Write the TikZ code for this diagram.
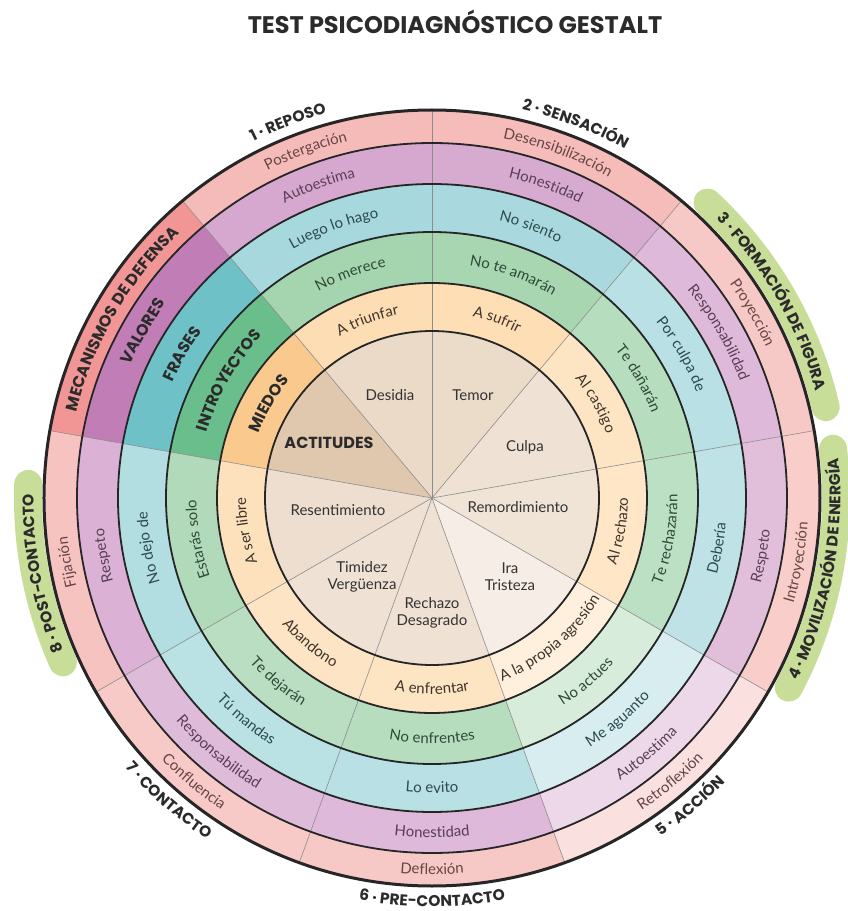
\documentclass[tikz,border=0pt]{standalone}
\usepackage{fontspec}
\setmainfont{Lato}
\newfontfamily\headfont{Poppins}
\usetikzlibrary{decorations.text}

% ring colours (sector 1) and label sector colours
\definecolor{beigeR}{HTML}{EBDAC8}
\definecolor{yellR}{HTML}{FDDDB3}
\definecolor{greenR}{HTML}{A5D5AF}
\definecolor{blueR}{HTML}{A7D8DD}
\definecolor{purpR}{HTML}{D6A8CF}
\definecolor{pinkR}{HTML}{F5BBB8}
\definecolor{beigeL}{HTML}{E0C8AF}
\definecolor{yellL}{HTML}{FAC98E}
\definecolor{greenL}{HTML}{6ABE8C}
\definecolor{blueL}{HTML}{6FC1C8}
\definecolor{purpL}{HTML}{C07DB6}
\definecolor{pinkL}{HTML}{F19694}
\definecolor{bandgreen}{HTML}{C8DD98}
% text colours
\definecolor{yellT}{HTML}{3E342A}
\definecolor{greenT}{HTML}{2E4A37}
\definecolor{blueT}{HTML}{2C4A4F}
\definecolor{purpT}{HTML}{5A3E56}
\definecolor{pinkT}{HTML}{664544}
\definecolor{ink}{HTML}{333333}
\definecolor{headink}{HTML}{2B2B2B}

\newcommand\ringfont{\fontsize{15}{17}\selectfont}
\newcommand\labfont{\headfont\bfseries\fontsize{16}{19}\selectfont\color{headink}}
\newcommand\stagefont{\headfont\bfseries\fontsize{15.5}{18}\selectfont\color{headink}}

\tikzset{
  spoke/.style={draw=black!45, line width=0.6pt},
  ring/.style={draw=black!85, line width=1.8pt},
  rim/.style={draw=black!85, line width=3pt},
  band/.style={draw=bandgreen, line width=28pt, line cap=round},
  inner/.style={font=\ringfont, text=ink, align=center, inner sep=1pt}
}

\begin{document}
\begin{tikzpicture}[x=1pt, y=1pt]
\useasboundingbox (-432,-413) rectangle (416,498);

% title
\node[font=\headfont\bfseries\fontsize{24}{28}\selectfont, text=headink] (title) at (23,476) {TEST PSICODIAGNÓSTICO GESTALT};

% sectors
\foreach \c/\m in {110/100,70/98,30/80,-10/74,-50/45,-90/80,-130/78,-170/88} {
  \foreach \ri/\ro/\col in {0.1/167/beigeR,167/215/yellR,215/266/greenR,266/314/blueR,314/355/purpR,355/388/pinkR} {
    \fill[fill=\col!\m!white] (\c+20:\ri) arc (\c+20:\c-20:\ri) -- (\c-20:\ro) arc (\c-20:\c+20:\ro) -- cycle;
  }
}
% label sector
\foreach \ri/\ro/\col in {0.1/167/beigeL,167/215/yellL,215/266/greenL,266/314/blueL,314/355/purpL,355/388/pinkL} {
  \fill[fill=\col] (170:\ri) arc (170:130:\ri) -- (130:\ro) arc (130:170:\ro) -- cycle;
}

% green bands
\draw[band] (47:404) arc (47:13:404);
\draw[band] (7:404) arc (7:-28:404);
\draw[band] (204:404) arc (204:178:404);

% spokes and circles
\foreach \a in {90,50,...,-230} \draw[spoke] (0,0) -- (\a:388);
\foreach \r in {167,215,266,314,355} \draw[ring] (0,0) circle (\r);
\draw[rim] (0,0) circle (388);

% ring texts
\foreach \c/\s/\ta/\tb/\tc/\td/\te in {
  110/1/A triunfar/No merece/Luego lo hago/Autoestima/Postergación,
  70/1/A sufrir/No te amarán/No siento/Honestidad/Desensibilización,
  30/1/Al castigo/Te dañarán/Por culpa de/Responsabilidad/Proyección,
  -10/-1/Al rechazo/Te rechazarán/Debería/Respeto/Introyección,
  -50/-1/A la propia agresión/No actues/Me aguanto/Autoestima/Retroflexión,
  -90/-1/A enfrentar/No enfrentes/Lo evito/Honestidad/Deflexión,
  -130/-1/Abandono/Te dejarán/Tú mandas/Responsabilidad/Confluencia,
  -170/1/A ser libre/Estarás solo/No dejo de/Respeto/Fijación} {
  \pgfmathsetmacro\aa{\c+40*\s}
  \pgfmathsetmacro\ab{\c-40*\s}
  \foreach \txt/\r/\col in {\ta/191/yellT,\tb/240.5/greenT,\tc/290/blueT,\td/334.5/purpT,\te/371.5/pinkT} {
    \pgfmathsetmacro\rb{\r-5*\s}
    \path[decorate, decoration={text along path, text align=center,
      text/.expanded={|\noexpand\ringfont\noexpand\color{\col}|\txt}}]
      (\aa:\rb) arc (\aa:\ab:\rb);
  }
}

% label sector texts
\foreach \txt/\r in {MIEDOS/191,INTROYECTOS/240.5,FRASES/290,MECANISMOS DE DEFENSA/371.5} {
  \pgfmathsetmacro\rb{\r-6}
  \path[decorate, decoration={text along path, text align=center,
    text/.expanded={|\noexpand\labfont|\txt}}] (190:\rb) arc (190:110:\rb);
}
\node[font=\labfont, rotate=60, inner sep=0pt] (valores) at (150:334.5) {VALORES};
\node[font=\labfont] (actitudes) at (-103,55) {ACTITUDES};

% inner texts
\node[inner] (desidia) at (-42,103) {Desidia};
\node[inner] (temor) at (41,103) {Temor};
\node[inner] (culpa) at (93,51) {Culpa};
\node[inner] (remord) at (86,-9) {Remordimiento};
\node[inner] (ira) at (78,-79) {Ira\\Tristeza};
\node[inner] (rechazo) at (0,-115) {Rechazo\\Desagrado};
\node[inner] (timidez) at (-70,-79) {Timidez\\Vergüenza};
\node[inner] (resent) at (-94,-12) {Resentimiento};

% stage labels
\foreach \c/\s/\txt in {111/1/1 · REPOSO,69/1/2 · SENSACIÓN,30/1/3 · FORMACIÓN DE FIGURA,
  -10.5/-1/4 · MOVILIZACIÓN DE ENERGÍA,-50/-1/5 · ACCIÓN,-90/-1/6 · PRE-CONTACTO,
  -131/-1/7 · CONTACTO,-169/1/8 · POST-CONTACTO} {
  \pgfmathsetmacro\aa{\c+45*\s}
  \pgfmathsetmacro\ab{\c-45*\s}
  \pgfmathsetmacro\rb{403.5-5*\s}
  \path[decorate, decoration={text along path, text align=center,
    text/.expanded={|\noexpand\stagefont|\txt}}] (\aa:\rb) arc (\aa:\ab:\rb);
}
\end{tikzpicture}
\end{document}
